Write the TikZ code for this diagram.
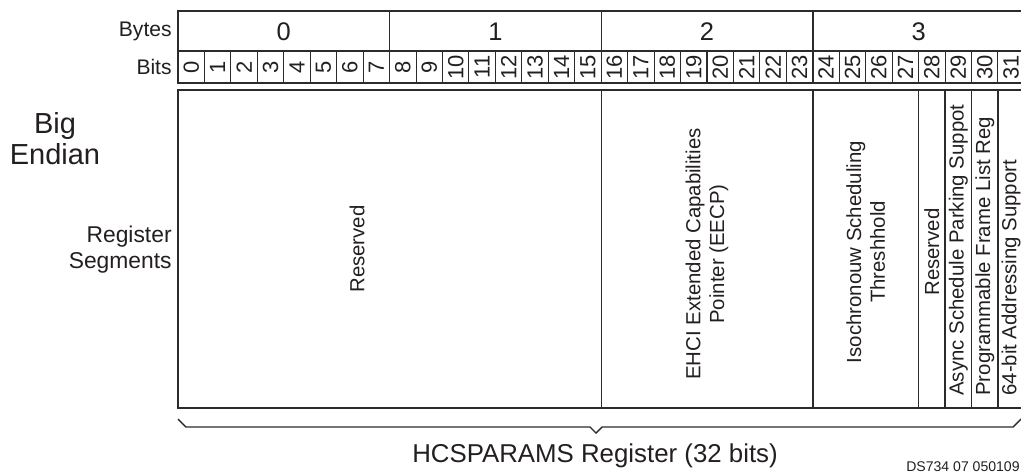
\documentclass[tikz,border=0pt]{standalone}
\usepackage{fontspec}
\setsansfont{Liberation Sans}
\usepackage{tikz}
\usetikzlibrary{positioning,calc}
\definecolor{regline}{HTML}{2B2B2B}
\definecolor{regtext}{HTML}{231F20}

\begin{document}
\begin{tikzpicture}[x=0.02cm,y=-0.02cm,font=\sffamily,
  regbox/.style={draw=regline,line width=0.8pt},
  bitsep/.style={draw=regline,line width=0.6pt},
  rowlabel/.style={anchor=east,inner sep=0pt,regtext,font=\sffamily\fontsize{12}{14}\selectfont},
  bytenum/.style={inner sep=0pt,regtext,font=\sffamily\fontsize{14.5}{16}\selectfont},
  bitnum/.style={inner sep=0pt,regtext,rotate=90,font=\sffamily\fontsize{12.5}{12.5}\selectfont},
  seglabel/.style={inner sep=0pt,regtext,rotate=90,align=center,
    font=\sffamily\fontsize{11.6}{13.6}\selectfont}]

\useasboundingbox (0,0) rectangle (1021,474);
\def\bw{26.45}\def\xl{178}

\draw[regbox] (1021,11) -- (\xl,11) -- (\xl,83) -- (1021,83);
\draw[regbox] (\xl,51) -- (1021,51);
\foreach \b in {1,2,3}
  \draw[regbox] ({\xl+8*\b*\bw},11) -- ({\xl+8*\b*\bw},83);
\foreach \i in {1,...,31}
  \draw[bitsep] ({\xl+\i*\bw},51) -- ({\xl+\i*\bw},83);

\node[rowlabel] (byteslbl) at (172,31) {Bytes};
\node[rowlabel] (bitslbl) at (172,67) {Bits};
\foreach \b in {0,...,3}
  \node[bytenum] (byte\b) at ({\xl+(8*\b+4)*\bw},32) {\b};
\foreach \i in {0,...,31}
  \node[bitnum] (bit\i) at ({\xl+(\i+0.5)*\bw},67) {\i};

% register segments
\draw[regbox] (1021,90) -- (\xl,90) -- (\xl,408) -- (1021,408);
\foreach \i in {16,24,28,29,30,31}
  \draw[regbox] ({\xl+\i*\bw},90) -- ({\xl+\i*\bw},408);

\node[seglabel] (resvhi) at (357,249) {Reserved};
\node[seglabel] (eecp) at ({\xl+20*\bw},254) {EHCI Extended Capabilities\\Pointer (EECP)};
\node[seglabel] (isoc) at ({\xl+26*\bw},252) {Isochronouw Scheduling\\Threshhold};
\node[seglabel] (resvlo) at ({\xl+28.5*\bw},252) {Reserved};
\node[seglabel,anchor=west] (async) at ({\xl+29.5*\bw},396) {Async Schedule Parking Suppot};
\node[seglabel,anchor=west] (progfl) at ({\xl+30.5*\bw},396) {Programmable Frame List Reg};
\node[seglabel,anchor=west] (addr64) at ({\xl+31.5*\bw},396) {64-bit Addressing Support};

\node[align=center,inner sep=0pt,regtext,font=\sffamily\fontsize{16.5}{17.6}\selectfont]
      (endian) at (55,139) {Big\\Endian};
\node[align=right,anchor=east,inner sep=0pt,regtext,font=\sffamily\fontsize{13}{14.7}\selectfont]
      (segs) at (172,250) {Register\\Segments};

% brace under the register
\draw[regline,line width=0.8pt] (\xl,419) -- (186,427) -- (590,427) -- (596,433)
      -- (602,427) -- (1013,427) -- (1021,419);
\node[inner sep=0pt,regtext,font=\sffamily\fontsize{14.7}{16}\selectfont]
      (title) at (595,456) {HCSPARAMS Register (32 bits)};
\node[anchor=east,inner sep=0pt,regtext,font=\sffamily\fontsize{8}{9}\selectfont]
      (docid) at (1020,467) {DS734 07 050109};

\end{tikzpicture}
\end{document}
